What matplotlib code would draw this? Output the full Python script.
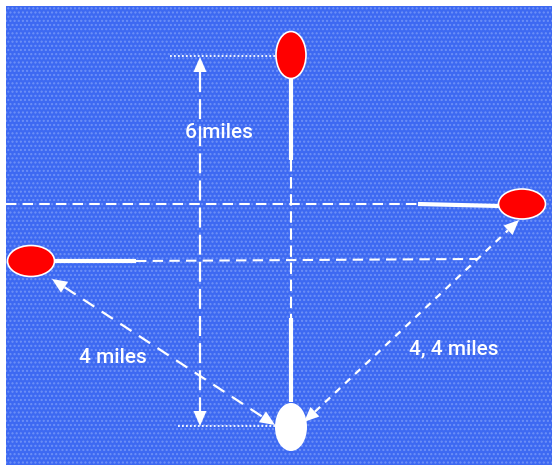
import numpy as np
import matplotlib
matplotlib.use('Agg')
import matplotlib.pyplot as plt
from matplotlib.patches import Ellipse, Rectangle, Polygon

plt.rcParams['font.family'] = ['Liberation Sans Narrow', 'Roboto', 'DejaVu Sans']
plt.rcParams['hatch.linewidth'] = 1.0

# ==========================================
# data (pixel coordinates of the diagram)
# ==========================================
buoy_names = ['top', 'right', 'left']
buoy_x = [291, 522, 31]
buoy_y = [55, 204, 261]
buoy_w = [30, 47, 47]
buoy_h = [47, 30, 31]

boat_x, boat_y = 291, 427
boat_w, boat_h = 32, 48

# solid white sticks: (x0, y0, x1, y1)
sticks = [(291, 79, 291, 160),
          (291, 318, 291, 402),
          (418, 204, 499, 206),
          (54, 261, 136, 261)]

# dashed guide lines
guides = [(291, 160, 291, 318, (5.5, 2.7)),
          (6, 204, 418, 204, (5, 3)),
          (136, 261, 478, 259, (5, 3))]

# dotted level marks
dotted = [(170, 56, 276, 56),
          (178, 426, 276, 426)]

# dashed double arrows: (x0, y0, x1, y1, dashes)
arrows = [(200, 57, 200, 426, (9, 3.2)),
          (52, 279, 275, 425, (6, 4)),
          (304, 422, 519, 220, (3.2, 3))]

labels = ['6 miles', '4 miles', '4, 4 miles']
label_x = [219, 113, 454]
label_y = [132, 357, 349]

# ==========================================
# figure
# ==========================================
fig = plt.figure(figsize=(5.52, 4.65), dpi=100)
ax = fig.add_axes([0, 0, 1, 1])
ax.set_xlim(0, 552)
ax.set_ylim(465, 0)
ax.axis('off')

ax.add_patch(Rectangle((6, 6), 546, 459, facecolor='#3d69f2',
                       edgecolor='#6f92f7', lw=0, hatch='....', zorder=0))


def head(x0, y0, x1, y1, length=15, width=13):
    # filled triangle pointing at (x1, y1)
    d = np.array([x1 - x0, y1 - y0], dtype=float)
    d /= np.hypot(*d)
    n = np.array([-d[1], d[0]])
    tip = np.array([x1, y1])
    base = tip - d * length
    pts = [tip, base + n * width / 2, base - n * width / 2]
    ax.add_patch(Polygon(pts, closed=True, facecolor='white',
                         edgecolor='none', zorder=4))
    return base


for x0, y0, x1, y1 in sticks:
    ax.plot([x0, x1], [y0, y1], color='white', lw=3.0,
            solid_capstyle='butt', zorder=3)

for x0, y0, x1, y1, ds in guides:
    ax.plot([x0, x1], [y0, y1], color='white', lw=1.5,
            dashes=ds, zorder=2)

for x0, y0, x1, y1 in dotted:
    ax.plot([x0, x1], [y0, y1], color='white', lw=1.3,
            dashes=(1, 1.2), zorder=2)

for x0, y0, x1, y1, ds in arrows:
    b1 = head(x0, y0, x1, y1)
    b0 = head(x1, y1, x0, y0)
    ax.plot([b0[0], b1[0]], [b0[1], b1[1]], color='white', lw=1.6,
            dashes=ds, zorder=3)

for x, y, w, h in zip(buoy_x, buoy_y, buoy_w, buoy_h):
    ax.add_patch(Ellipse((x, y), w, h, facecolor='#ff0000',
                         edgecolor='white', lw=1.2, zorder=5))

ax.add_patch(Ellipse((boat_x, boat_y), boat_w, boat_h, facecolor='white',
                     edgecolor='none', zorder=5))

for t, x, y in zip(labels, label_x, label_y):
    ax.text(x, y, t, color='white', fontsize=15, fontweight='medium',
            ha='center', va='center', zorder=6)

fig.savefig('out.png', dpi=100)
